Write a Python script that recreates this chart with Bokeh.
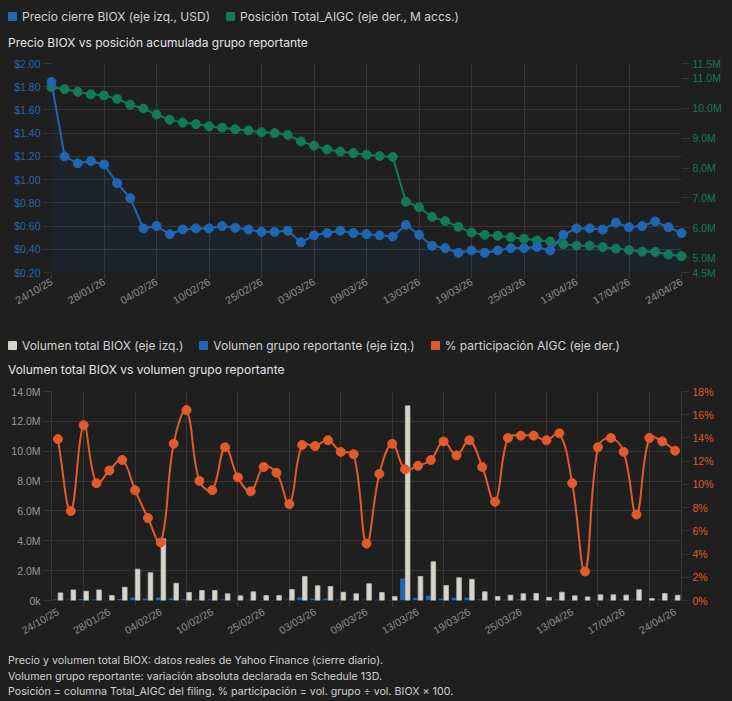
import math
from bokeh.plotting import figure
from bokeh.models import Range1d, LinearAxis, FixedTicker, Div, PrintfTickFormatter, ColumnDataSource
from bokeh.layouts import column
from bokeh.transform import dodge
from bokeh.embed import file_html
from bokeh.resources import INLINE

# ---------------- data ----------------
tick_labels = ["24/10/25", "28/01/26", "04/02/26", "10/02/26", "25/02/26", "03/03/26", "09/03/26",
               "13/03/26", "19/03/26", "25/03/26", "13/04/26", "17/04/26", "24/04/26"]
label_step = 4

price_biox = [1.84, 1.20, 1.14, 1.16, 1.13, 0.97, 0.84, 0.58, 0.60, 0.53, 0.57, 0.58, 0.58, 0.60, 0.585,
              0.57, 0.55, 0.55, 0.56, 0.46, 0.52, 0.54, 0.56, 0.54, 0.53,
              0.52, 0.51, 0.61, 0.525, 0.43, 0.41, 0.37, 0.39, 0.37, 0.39, 0.41, 0.41, 0.42, 0.39,
              0.525, 0.58, 0.58, 0.57, 0.63, 0.59, 0.60, 0.64, 0.59, 0.54]

pos_total_aigc_m = [10.71, 10.64, 10.55, 10.47, 10.43, 10.32, 10.12, 9.99, 9.79, 9.62,
                    9.52, 9.47, 9.40, 9.35, 9.30, 9.26, 9.20, 9.17, 9.11, 8.89,
                    8.75, 8.62, 8.55, 8.50, 8.44, 8.40, 8.37,
                    6.87, 6.68, 6.36, 6.22, 6.03, 5.84, 5.76, 5.73, 5.68, 5.63,
                    5.57, 5.54, 5.45, 5.40, 5.40, 5.35, 5.30, 5.25, 5.20, 5.19, 5.10, 5.05]

vol_total_m = [0.51, 0.71, 0.62, 0.71, 0.33, 0.89, 2.10, 1.86, 4.13, 1.15,
               0.54, 0.67, 0.67, 0.45, 0.31, 0.58, 0.33, 0.33, 0.74, 1.61,
               0.99, 0.94, 0.55, 0.45, 1.12, 0.53, 0.26, 13.04, 1.61, 2.59,
               1.00, 1.52, 1.42, 0.58, 0.27, 0.36, 0.45, 0.47, 0.21, 0.56,
               0.31, 0.24, 0.38, 0.38, 0.36, 0.72, 0.13, 0.47, 0.35]

vol_group_m = [0.071, 0.055, 0.094, 0.072, 0.037, 0.108, 0.200, 0.132, 0.207, 0.155,
               0.089, 0.069, 0.064, 0.059, 0.033, 0.055, 0.038, 0.036, 0.061, 0.216,
               0.132, 0.130, 0.070, 0.057, 0.055, 0.058, 0.035, 1.474, 0.187, 0.313,
               0.137, 0.190, 0.196, 0.067, 0.023, 0.050, 0.064, 0.067, 0.029, 0.081,
               0.031, 0.006, 0.050, 0.053, 0.046, 0.053, 0.018, 0.064, 0.045]

pct_aigc = [13.9, 7.7, 15.1, 10.1, 11.2, 12.1, 9.5, 7.1, 5.0, 13.5,
            16.4, 10.3, 9.5, 13.2, 10.6, 9.4, 11.5, 11.0, 8.3, 13.4,
            13.3, 13.8, 12.8, 12.6, 4.9, 10.9, 13.5, 11.3, 11.6, 12.1,
            13.7, 12.5, 13.8, 11.5, 8.5, 14.0, 14.2, 14.2, 13.8, 14.4,
            10.1, 2.5, 13.2, 14.0, 12.8, 7.4, 14.0, 13.7, 12.9]

price_ticks = [0.2, 0.4, 0.6, 0.8, 1.0, 1.2, 1.4, 1.6, 1.8, 2.0]
pos_ticks = [4.5, 5, 6, 7, 8, 9, 10, 11, 11.5]
vol_ticks = [0, 2, 4, 6, 8, 10, 12, 14]
pct_ticks = [0, 2, 4, 6, 8, 10, 12, 14, 16, 18]

# ---------------- style ----------------
BG = "#1f1f1f"
GRID = "#363636"
BLUE = "#1f67b3"
GREEN = "#12795a"
ORANGE = "#e05a2a"
BARW = "#d6d4cc"
BLUE_TXT = "#2468b0"
GREEN_TXT = "#137a58"
GREY_TXT = "#8e8e8e"
TICK_FONT = "Liberation Sans"
TICK_SIZE = "10.5px"
UI_FONT = "Inter, 'Noto Sans', sans-serif"

n = len(price_biox)
x_idx = list(range(n))
label_ticks = list(range(0, n, label_step))
overrides = {t: lbl for t, lbl in zip(label_ticks, tick_labels)}


def style_axis(ax, color):
    ax.major_label_text_font = TICK_FONT
    ax.major_label_text_font_size = TICK_SIZE
    ax.major_label_text_color = color
    ax.major_tick_in = 0
    ax.major_tick_out = 8
    ax.major_tick_line_color = GRID
    ax.minor_tick_line_color = None
    ax.axis_line_color = None
    ax.major_label_standoff = 3


# ---------------- chart 1 ----------------
W = 716
H1, T1, B1, L1, R1 = 273, 11, 53, 38, 39
p1 = figure(width=W, height=H1, x_range=Range1d(0, n - 1), y_range=Range1d(price_ticks[0], price_ticks[-1]),
            output_backend="svg", toolbar_location=None,
            min_border_left=L1, min_border_right=R1, min_border_top=T1, min_border_bottom=B1,
            background_fill_color=BG, border_fill_color=BG, outline_line_color=None)
p1.extra_y_ranges = {"pos": Range1d(pos_ticks[0], pos_ticks[-1])}

p1.yaxis.ticker = FixedTicker(ticks=price_ticks)
p1.yaxis.formatter = PrintfTickFormatter(format="$%.2f")
style_axis(p1.yaxis[0], BLUE_TXT)

rax = LinearAxis(y_range_name="pos", ticker=FixedTicker(ticks=pos_ticks),
                 formatter=PrintfTickFormatter(format="%.1fM"))
style_axis(rax, GREEN_TXT)
p1.add_layout(rax, "right")

p1.xaxis.ticker = FixedTicker(ticks=label_ticks)
p1.xaxis.major_label_overrides = overrides
p1.xaxis.major_label_orientation = math.radians(30)
style_axis(p1.xaxis[0], GREY_TXT)
p1.xaxis.major_tick_out = 6
p1.xaxis.major_label_standoff = 2

p1.xgrid.ticker = FixedTicker(ticks=label_ticks)
p1.grid.grid_line_color = GRID
p1.grid.grid_line_width = 1

p1.varea(x=x_idx, y1=price_ticks[0], y2=price_biox, fill_color=BLUE, fill_alpha=0.07)
p1.line(x_idx, pos_total_aigc_m, y_range_name="pos", line_color=GREEN, line_width=2, level="overlay")
p1.scatter(x_idx, pos_total_aigc_m, y_range_name="pos", size=9, fill_color=GREEN, line_color=GREEN, level="overlay")
p1.line(x_idx, price_biox, line_color=BLUE, line_width=2, level="overlay")
p1.scatter(x_idx, price_biox, size=9, fill_color=BLUE, line_color=BLUE, level="overlay")

# ---------------- chart 2 ----------------
H2, T2, B2, L2, R2 = 267, 10, 48, 40, 32
p2 = figure(width=W, height=H2, x_range=Range1d(-0.5, n - 0.5), y_range=Range1d(vol_ticks[0], vol_ticks[-1]),
            output_backend="svg", toolbar_location=None,
            min_border_left=L2, min_border_right=R2, min_border_top=T2, min_border_bottom=B2,
            background_fill_color=BG, border_fill_color=BG, outline_line_color=None)
p2.extra_y_ranges = {"pct": Range1d(pct_ticks[0], pct_ticks[-1])}

p2.yaxis.ticker = FixedTicker(ticks=vol_ticks)
p2.yaxis.formatter = PrintfTickFormatter(format="%.1fM")
p2.yaxis.major_label_overrides = {0: "0k"}
style_axis(p2.yaxis[0], "#9a9a9a")
p2.yaxis.axis_line_color = GRID

rax2 = LinearAxis(y_range_name="pct", ticker=FixedTicker(ticks=pct_ticks),
                  major_label_overrides={t: f"{t}%" for t in pct_ticks})
style_axis(rax2, ORANGE)
rax2.axis_line_color = GRID
p2.add_layout(rax2, "right")

grid_ticks = [t + label_step / 2 for t in label_ticks[:-1]]
p2.xaxis.ticker = FixedTicker(ticks=label_ticks, minor_ticks=grid_ticks)
p2.xaxis.major_label_overrides = overrides
p2.xaxis.major_label_orientation = math.radians(30)
style_axis(p2.xaxis[0], GREY_TXT)
p2.xaxis.major_tick_out = 0
p2.xaxis.minor_tick_out = 6
p2.xaxis.minor_tick_in = 0
p2.xaxis.minor_tick_line_color = GRID
p2.xaxis.major_label_standoff = 4

p2.xgrid.ticker = FixedTicker(ticks=grid_ticks)
p2.grid.grid_line_color = GRID

src = ColumnDataSource(dict(x=x_idx, total=vol_total_m, group=vol_group_m, pct=pct_aigc))
p2.vbar(x=dodge("x", -0.2, range=p2.x_range), top="group", width=0.36, source=src,
        fill_color=BLUE, line_color=None)
p2.vbar(x=dodge("x", 0.2, range=p2.x_range), top="total", width=0.36, source=src,
        fill_color=BARW, line_color="#bdbbb4", line_width=0.8)

# Chart.js-like smooth curve (tension 0.4) computed in pixel space from the data
sx = (W - L2 - R2) / n
sy = (H2 - T2 - B2) / (pct_ticks[-1] - pct_ticks[0])
tension = 0.4
px = [x * sx for x in x_idx]
py = [v * sy for v in pct_aigc]
cprev, cnext = [], []
for i in range(n):
    a, c = max(i - 1, 0), min(i + 1, n - 1)
    d01 = math.hypot(px[i] - px[a], py[i] - py[a])
    d12 = math.hypot(px[c] - px[i], py[c] - py[i])
    tot = d01 + d12
    s01 = d01 / tot if tot else 0.0
    s12 = d12 / tot if tot else 0.0
    fa, fb = tension * s01, tension * s12
    dx, dy = px[c] - px[a], py[c] - py[a]
    cprev.append((px[i] - fa * dx, py[i] - fa * dy))
    cnext.append((px[i] + fb * dx, py[i] + fb * dy))


def cy(v):
    return min(max(v / sy, pct_ticks[0]), pct_ticks[-1])


bez = dict(
    x0=x_idx[:-1], y0=pct_aigc[:-1], x1=x_idx[1:], y1=pct_aigc[1:],
    cx0=[cnext[i][0] / sx for i in range(n - 1)], cy0=[cy(cnext[i][1]) for i in range(n - 1)],
    cx1=[cprev[i + 1][0] / sx for i in range(n - 1)], cy1=[cy(cprev[i + 1][1]) for i in range(n - 1)],
)
p2.bezier(source=ColumnDataSource(bez), x0="x0", y0="y0", x1="x1", y1="y1",
          cx0="cx0", cy0="cy0", cx1="cx1", cy1="cy1",
          line_color=ORANGE, line_width=2, y_range_name="pct")
p2.scatter("x", "pct", source=src, size=9, fill_color=ORANGE, line_color=ORANGE, y_range_name="pct")

# ---------------- html pieces ----------------


def legend_html(items, pad_top):
    parts = []
    for color, text in items:
        parts.append(
            f'<span style="display:inline-block;width:9px;height:9px;background:{color};'
            f'border-radius:1px;margin-right:5px;vertical-align:0px"></span>'
            f'<span style="margin-right:16px">{text}</span>')
    return (f'<div style="font-family:{UI_FONT};font-size:12px;line-height:18px;color:#d2d2d2;'
            f'white-space:nowrap;padding-top:{pad_top}px">' + "".join(parts) + "</div>")


def title_html(text, pad_top):
    return (f'<div style="font-family:{UI_FONT};font-size:12px;font-weight:400;line-height:18px;'
            f'color:#e4e4e4;white-space:nowrap;padding-top:{pad_top}px">{text}</div>')


leg1 = Div(text=legend_html([(BLUE, "Precio cierre BIOX (eje izq., USD)"),
                             (GREEN, "Posición Total_AIGC (eje der., M accs.)")], 0),
           width=W, height=18, margin=(0, 0, 0, 0))
tit1 = Div(text=title_html("Precio BIOX vs posición acumulada grupo reportante", 8),
           width=W, height=26, margin=(0, 0, 0, 0))
leg2 = Div(text=legend_html([(BARW, "Volumen total BIOX (eje izq.)"),
                             (BLUE, "Volumen grupo reportante (eje izq.)"),
                             (ORANGE, "% participación AIGC (eje der.)")], 12),
           width=W, height=30, margin=(0, 0, 0, 0))
tit2 = Div(text=title_html("Volumen total BIOX vs volumen grupo reportante", 6),
           width=W, height=26, margin=(0, 0, 0, 0))
foot = Div(text=(f'<div style="font-family:{UI_FONT};font-size:10.7px;line-height:15.5px;color:#cfcfcf;'
                 f'white-space:nowrap;padding-top:5px">'
                 'Precio y volumen total BIOX: datos reales de Yahoo Finance (cierre diario).<br>'
                 'Volumen grupo reportante: variación absoluta declarada en Schedule 13D.<br>'
                 'Posición = columna Total_AIGC del filing. % participación = vol. grupo ÷ vol. BIOX × 100.'
                 '</div>'),
           width=W, height=50, margin=(0, 0, 0, 0))

for pl in (p1, p2):
    pl.margin = (0, 0, 0, 0)

layout = column(leg1, tit1, p1, leg2, tit2, p2, foot, spacing=0, margin=(0, 0, 0, 0),
                styles={"background-color": BG})

html = file_html(layout, INLINE, title="BIOX")
html = html.replace("</head>",
                    f"<style>html,body{{background:{BG};overflow:hidden}}body{{margin:8px}}</style></head>", 1)
with open("out.html", "w", encoding="utf-8") as f:
    f.write(html)
